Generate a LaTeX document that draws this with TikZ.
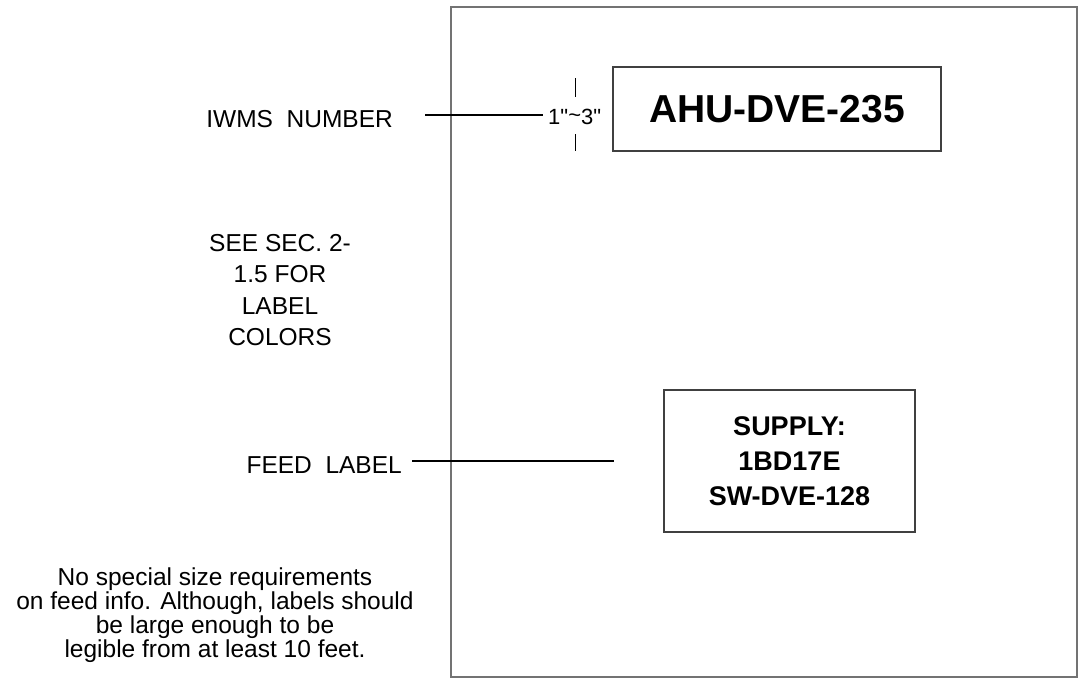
\documentclass[tikz,border=0pt]{standalone}
\usepackage{fontspec}
\setmainfont{Liberation Sans}
\newfontfamily\lblfont{Liberation Sans}
\newfontfamily\boxfont{Liberation Sans}
\begin{document}
\begin{tikzpicture}[x=1pt,y=-1pt,
  lbl/.style={inner sep=0pt, font=\lblfont\fontsize{24.5}{24}\selectfont, align=center},
  panel/.style={draw=black!55, line width=1.5pt},
  tag/.style={draw=black!75, line width=1.2pt},
  lead/.style={draw=black, line width=1.1pt}]
\useasboundingbox (0,0) rectangle (1078,683);
% outer panel
\draw[panel] (451,7) rectangle (1077,677);
% IWMS label
\node[lbl, anchor=east] (iwms) at (393,119) {IWMS\ \ NUMBER};
\coordinate (iwmsA) at (425,115);
\node[lbl, anchor=west, font=\lblfont\fontsize{22}{24}\selectfont] (dim) at (548,117) {1"\raisebox{0.15ex}{\textasciitilde}3"};
\draw[lead] (iwmsA) -- ([xshift=-5pt]iwmsA -| dim.west);
\coordinate (t1a) at (575,78); \coordinate (t1b) at (575,97);
\coordinate (t2a) at (575,134); \coordinate (t2b) at (575,151);
\draw[line width=0.8pt] (t1a) -- (t1b);
\draw[line width=0.8pt] (t2a) -- (t2b);
% AHU box
\node[tag, minimum width=328pt, minimum height=84pt, inner sep=0pt,
  font=\boxfont\bfseries\fontsize{39}{44}\selectfont] (ahu) at (777,109) {AHU-DVE-235};
% see sec note
\node[lbl, font=\lblfont\fontsize{24.5}{31.5}\selectfont] (see) at (280,290) {SEE SEC. 2-\\1.5 FOR\\LABEL\\COLORS};
% feed label
\node[lbl, anchor=east] (feed) at (402,465) {FEED\ \ LABEL};
\coordinate (feedA) at (412,461);
\coordinate (feedB) at (614,461);
\draw[lead] (feedA) -- (feedB);
% supply box
\node[tag, minimum width=251pt, minimum height=142pt, inner sep=0pt,
  align=center, font=\boxfont\bfseries\fontsize{27}{35}\selectfont] (sup) at (789.5,461) {SUPPLY:\\1BD17E\\SW-DVE-128};
% bottom note
\node[lbl] (note) at (215,615) {No special size requirements\\on feed info. Although, labels should\\be large enough to be\\legible from at least 10 feet.};
\end{tikzpicture}
\end{document}
